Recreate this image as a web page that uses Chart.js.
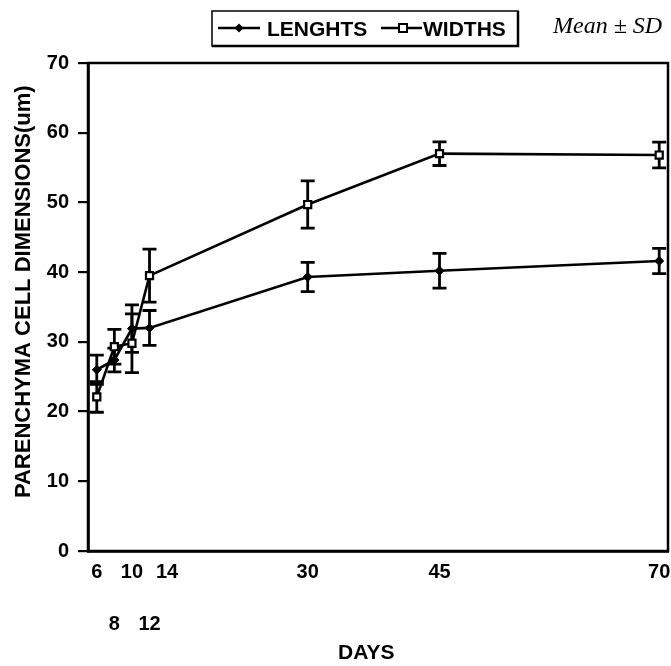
<!DOCTYPE html>
<html>
<head>
<meta charset="utf-8">
<script src="https://cdn.jsdelivr.net/npm/chart.js@4.4.0/dist/chart.umd.min.js"></script>
<style>
    html, body { margin: 0; padding: 0; background: #fff; }
    canvas { display: block; }
</style>
</head>
<body>
<canvas id="chartDims" width="671" height="666"></canvas>
<script>
(function () {
    "use strict";

    // Data
    const days = [6, 8, 10, 12, 30, 45, 70];
    const lengthsMean = [26.0, 27.4, 31.9, 32.0, 39.3, 40.2, 41.6];
    const lengthsSD = [2.1, 1.7, 3.4, 2.5, 2.1, 2.5, 1.8];
    const widthsMean = [22.1, 29.3, 29.8, 39.5, 49.7, 57.0, 56.8];
    const widthsSD = [2.2, 2.5, 4.2, 3.8, 3.4, 1.7, 1.85];

    const xTickValues = [6, 8, 10, 12, 14, 30, 45, 70];
    const lowerRowTicks = [8, 12];
    const seriesNames = ["LENGHTS", "WIDTHS"];

    const SANS = '"Liberation Sans", Arial, sans-serif';
    const SERIF = '"Liberation Serif", "Times New Roman", serif';

    // ============================
    // Plugins
    // ============================
    const frame = {
        id: "frame",
        beforeDatasetsDraw(chart) {
            const { ctx, chartArea: a } = chart;
            ctx.save();
            ctx.strokeStyle = "#000";
            ctx.lineWidth = 2.5;
            ctx.strokeRect(a.left, a.top, a.right - a.left, a.bottom - a.top);
            ctx.restore();
        },
    };

    const errorBars = {
        id: "errorBars",
        beforeDatasetsDraw(chart) {
            const { ctx, scales: { x, y } } = chart;
            ctx.save();
            ctx.strokeStyle = "#000";
            ctx.lineWidth = 2.8;
            chart.data.datasets.forEach((ds) => {
                ds.errors.forEach((sd, i) => {
                    const px = x.getPixelForValue(ds.data[i].x);
                    const top = y.getPixelForValue(ds.data[i].y + sd);
                    const bot = y.getPixelForValue(ds.data[i].y - sd);
                    ctx.beginPath();
                    ctx.moveTo(px, top);
                    ctx.lineTo(px, bot);
                    ctx.moveTo(px - 7, top);
                    ctx.lineTo(px + 7, top);
                    ctx.moveTo(px - 7, bot);
                    ctx.lineTo(px + 7, bot);
                    ctx.stroke();
                });
            });
            ctx.restore();
        },
    };

    function drawMarker(ctx, style, cx, cy) {
        ctx.beginPath();
        if (style === "rectRot") {
            ctx.moveTo(cx, cy - 4.5);
            ctx.lineTo(cx + 4.5, cy);
            ctx.lineTo(cx, cy + 4.5);
            ctx.lineTo(cx - 4.5, cy);
            ctx.closePath();
            ctx.fillStyle = "#000";
            ctx.fill();
        } else {
            ctx.rect(cx - 4, cy - 4, 8, 8);
            ctx.fillStyle = "#fff";
            ctx.fill();
            ctx.lineWidth = 2;
            ctx.strokeStyle = "#000";
            ctx.stroke();
        }
    }

    const boxLegend = {
        id: "boxLegend",
        afterDraw(chart) {
            const ctx = chart.ctx;
            const dsets = chart.data.datasets;
            ctx.save();

            // box, heavier on bottom / right
            ctx.strokeStyle = "#000";
            ctx.lineWidth = 1.5;
            ctx.strokeRect(212, 11, 306, 35);
            ctx.lineWidth = 2.5;
            ctx.beginPath();
            ctx.moveTo(212, 46);
            ctx.lineTo(518, 46);
            ctx.lineTo(518, 11);
            ctx.stroke();

            const items = [
                { x0: 218, x1: 260, mx: 239, tx: 267 },
                { x0: 381, x1: 422, mx: 403, tx: 423 },
            ];
            const cy = 28;
            items.forEach((it, i) => {
                ctx.strokeStyle = "#000";
                ctx.lineWidth = 2.6;
                ctx.beginPath();
                ctx.moveTo(it.x0, cy);
                ctx.lineTo(it.x1, cy);
                ctx.stroke();
                drawMarker(ctx, dsets[i].pointStyle, it.mx, cy);

                ctx.fillStyle = "#000";
                ctx.font = "bold 21px " + SANS;
                ctx.textAlign = "left";
                ctx.textBaseline = "alphabetic";
                ctx.fillText(dsets[i].label, it.tx, 36);
            });

            ctx.font = "italic 24px " + SERIF;
            ctx.fillText("Mean \u00b1 SD", 553, 33);
            ctx.restore();
        },
    };

    // ============================
    // Chart
    // ============================
    function toPoints(means) {
        return days.map((d, i) => ({ x: d, y: means[i] }));
    }

    const canvas = document.getElementById("chartDims");

    new Chart(canvas, {
        type: "line",
        data: {
            datasets: [
                {
                    label: seriesNames[0],
                    data: toPoints(lengthsMean),
                    errors: lengthsSD,
                    borderColor: "#000",
                    borderWidth: 2.6,
                    pointStyle: "rectRot",
                    pointRadius: 4.5,
                    pointBackgroundColor: "#000",
                    pointBorderColor: "#000",
                    pointBorderWidth: 1,
                    tension: 0,
                    fill: false,
                },
                {
                    label: seriesNames[1],
                    data: toPoints(widthsMean),
                    errors: widthsSD,
                    borderColor: "#000",
                    borderWidth: 2.6,
                    pointStyle: "rect",
                    pointRadius: 5,
                    pointBackgroundColor: "#fff",
                    pointBorderColor: "#000",
                    pointBorderWidth: 2.2,
                    tension: 0,
                    fill: false,
                },
            ],
        },
        options: {
            responsive: false,
            animation: false,
            layout: {
                autoPadding: false,
                padding: { top: 63, right: 3, left: 0, bottom: 0 },
            },
            plugins: {
                legend: { display: false },
                tooltip: { enabled: false },
            },
            scales: {
                x: {
                    type: "linear",
                    min: 5,
                    max: 71,
                    afterBuildTicks: (s) => {
                        s.ticks = xTickValues.map((v) => ({ value: v }));
                    },
                    afterFit: (s) => {
                        s.height = 115;
                        s.paddingLeft = 0;
                        s.paddingRight = 0;
                    },
                    // invisible tick marks only push the labels down
                    grid: {
                        display: true,
                        drawOnChartArea: false,
                        drawTicks: true,
                        tickLength: 8,
                        color: "rgba(0,0,0,0)",
                    },
                    border: { display: true, color: "#000", width: 2.8 },
                    ticks: {
                        autoSkip: false,
                        maxRotation: 0,
                        minRotation: 0,
                        padding: 0,
                        color: "#000",
                        font: { family: SANS, size: 20, weight: "bold", lineHeight: 1.3 },
                        callback: (v) => (lowerRowTicks.includes(v) ? ["", "", String(v)] : String(v)),
                    },
                    title: {
                        display: true,
                        text: "DAYS    ",
                        color: "#000",
                        font: { family: SANS, size: 21, weight: "bold" },
                        padding: { top: 0, bottom: 0 },
                    },
                },
                y: {
                    min: 0,
                    max: 70,
                    afterFit: (s) => {
                        s.width = 88;
                    },
                    grid: {
                        drawOnChartArea: false,
                        drawTicks: true,
                        tickLength: 10,
                        color: "#000",
                        lineWidth: 2.2,
                    },
                    border: { display: true, color: "#000", width: 2.8 },
                    ticks: {
                        stepSize: 10,
                        padding: 9,
                        color: "#000",
                        font: { family: SANS, size: 20, weight: "bold" },
                    },
                    title: {
                        display: true,
                        text: "     PARENCHYMA CELL DIMENSIONS(um)",
                        color: "#000",
                        font: { family: SANS, size: 22, weight: "bold" },
                        padding: { top: 11, bottom: 0 },
                    },
                },
            },
        },
        plugins: [frame, errorBars, boxLegend],
    });
})();
</script>
</body>
</html>
